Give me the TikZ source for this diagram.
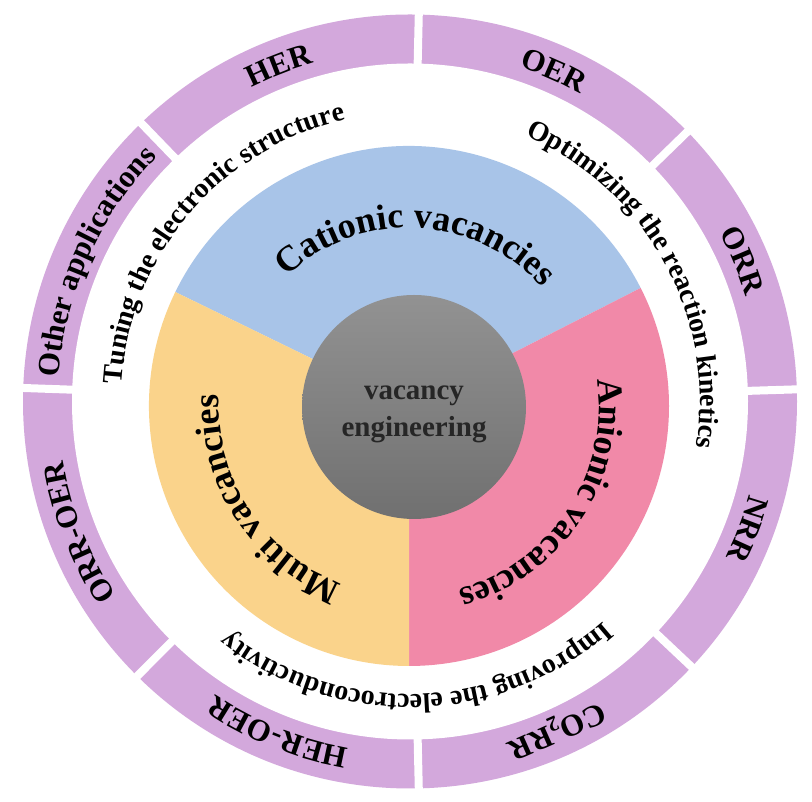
\documentclass[tikz,border=0pt]{standalone}
\usepackage{fontspec}
\setmainfont{Liberation Serif}
\usetikzlibrary{decorations.text}
\definecolor{ringpurple}{RGB}{211,168,220}
\definecolor{cationblue}{RGB}{168,196,232}
\definecolor{anionpink}{RGB}{241,137,168}
\definecolor{multiyellow}{RGB}{250,211,139}
\definecolor{coretop}{RGB}{146,146,146}
\definecolor{corebottom}{RGB}{112,112,112}
\newcommand\ringfont{\bfseries\fontsize{31}{34}\selectfont}
\newcommand\bandfont{\bfseries\fontsize{28}{31}\selectfont}
\newcommand\piefont{\bfseries\fontsize{36}{40}\selectfont}
\tikzstyle{ring}=[fill=ringpurple]
\tikzstyle{gap}=[draw=white, line width=8pt]
\tikzstyle{core}=[circle, minimum size=224pt, inner sep=0pt, top color=coretop, bottom color=corebottom]
\tikzstyle{core text}=[align=center, text=black!85, font=\bfseries\fontsize{29}{37}\selectfont]
\tikzset{
  ring label/.style={decorate, decoration={text along path, text align=center, text={|\ringfont|#1}}},
  band label/.style={decorate, decoration={text along path, text align=center, text={|\bandfont|#1}}},
  pie label/.style={decorate, decoration={text along path, text align=center, text={|\piefont|#1}}}
}

\begin{document}
\begin{tikzpicture}[x=1pt, y=1pt]
\fill[white] (0,0) rectangle (812,802);
\useasboundingbox (0,0) rectangle (812,802);

% outer ring of applications
\begin{scope}[shift={(410,400.5)}]
\fill[ring] (0,0) circle[radius=387];
\fill[white] (0,0) circle[radius=338];
\draw[gap] (88.7:330) -- (88.7:395);
\draw[gap] (44.2:330) -- (44.2:395);
\draw[gap] (1.8:330) -- (1.8:395);
\draw[gap] (-43.3:330) -- (-43.3:395);
\draw[gap] (-88.7:330) -- (-88.7:395);
\draw[gap] (225.2:330) -- (225.2:395);
\draw[gap] (178:330) -- (178:395);
\draw[gap] (134:330) -- (134:395);

\path[ring label={HER}] (141.35:352) arc[start angle=141.35, end angle=81.35, radius=352];
\path[ring label={OER}] (96.45:352) arc[start angle=96.45, end angle=36.45, radius=352];
\path[ring label={ORR}] (53:352) arc[start angle=53, end angle=-7, radius=352];
\path[ring label={NRR}] (9.25:352) arc[start angle=9.25, end angle=-50.75, radius=352];
\node[anchor=base, rotate=-156, inner sep=0pt, font=\ringfont] (co2rr) at (-66:352) {CO\textsubscript{2}RR};
\path[ring label={HER-OER}] (278.25:352) arc[start angle=278.25, end angle=218.25, radius=352];
\path[ring label={ORR-OER}] (231.6:352) arc[start angle=231.6, end angle=171.6, radius=352];
\path[ring label={Other applications}] (186:352) arc[start angle=186, end angle=126, radius=352];

% effects in the white band
\path[band label={Tuning the electronic structure}] (215:289) arc[start angle=215, end angle=64.6, radius=289];
\path[band label={Optimizing the reaction kinetics}] (105:290) arc[start angle=105, end angle=-47.5, radius=290];
\path[band label={Improving the electroconductivity}] (-10:293) arc[start angle=-10, end angle=-167, radius=293];
\end{scope}

% vacancy types
\begin{scope}[shift={(409,396)}]
\fill[cationblue] (0,0) -- (27:260) arc[start angle=27, end angle=154, radius=260] -- cycle;
\fill[anionpink] (0,0) -- (-90:260) arc[start angle=-90, end angle=27, radius=260] -- cycle;
\fill[multiyellow] (0,0) -- (154:260) arc[start angle=154, end angle=270, radius=260] -- cycle;

\path[pie label={Cationic vacancies}] (150:178) arc[start angle=150, end angle=25, radius=178];
\path[pie label={Anionic vacancies}] (30:190) arc[start angle=30, end angle=-97, radius=190];
\path[pie label={Multi vacancies}] (276:190) arc[start angle=276, end angle=150, radius=190];

\node[core] (core) at (5,-1) {};
\node[core text] (core label) at ([yshift=-7pt]core.center) {vacancy\\engineering};
\end{scope}

\end{tikzpicture}
\end{document}
